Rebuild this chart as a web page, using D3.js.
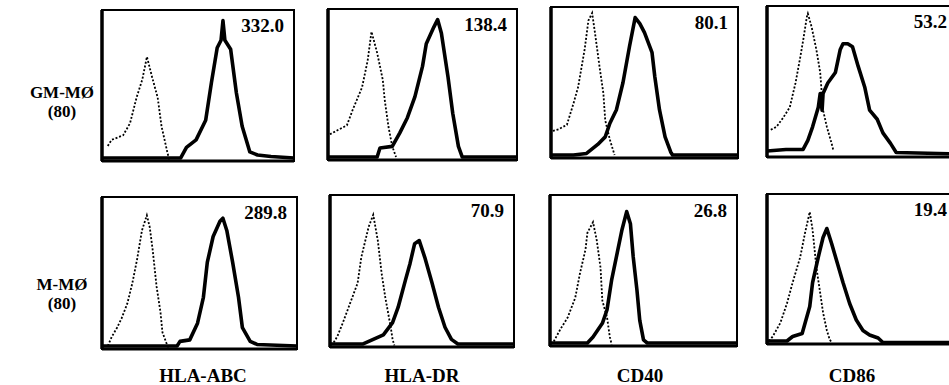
<!DOCTYPE html>
<html>
<head>
<meta charset="utf-8">
<script src="https://cdn.jsdelivr.net/npm/d3@7"></script>
<style>
  html, body { margin: 0; padding: 0; background: #fff; }
  svg { display: block; }
</style>
</head>
<body>
<svg id="chart" width="949" height="385"></svg>
<script>
// ---------------- DATA ----------------
const markers = ["HLA-ABC", "HLA-DR", "CD40", "CD86"];
const cellTypes = ["GM-MØ", "M-MØ"];
const cellCounts = ["(80)", "(80)"];
const mfiGM = ["332.0", "138.4", "80.1", "53.2"];
const mfiM  = ["289.8", "70.9", "26.8", "19.4"];

// histogram traces: [fluorescence channel (0-100 across axis), relative count (0-100)]
// GM-MØ, isotype control (dotted) and specific stain (solid)
const gmIsoABC = [[3,10],[5,14],[11,17],[14.6,25],[18,42],[21,54],[23.4,69],[26,56],[29,42],[31,23],[34,6],[35,1]];
const gmABC    = [[0,2],[30,2],[41,2],[44,9],[49,14],[54,27],[57,52],[60,75],[62,80],[63,93],[64,80],[67,74],[70,45],[73,23],[77,6],[81,4],[88,3],[100,2]];
const gmIsoDR  = [[1,17],[4,19],[10,23],[13,33],[18,48],[21,66],[23,85],[26,71],[29,53],[30,40],[32,22],[34,9],[36,2]];
const gmDR     = [[0,2],[26,2],[27.5,8],[34,9],[38,18],[42,28],[46,42],[50,62],[52,77],[56,88],[58,93],[60,84],[63.5,55],[66,31],[69,9],[71,2],[100,2]];
const gmIsoCD40 = [[1,18],[4,19],[8.5,22],[12,36],[14.5,47],[18,72],[20,91],[22,96],[23.5,83],[26,60],[28,43],[29,25],[31.5,12],[34,2]];
const gmCD40    = [[0,2],[12,2],[19,3],[25,9],[29,14],[31.5,23],[35,32],[38.5,50],[42,74],[45,93],[47.5,89],[50,83],[54,70],[55.5,54],[58,32],[61,14],[64,4],[65,2],[100,2]];
const gmIsoCD86 = [[2,18],[5,20],[8.5,26],[12,33],[15,49],[17.5,66],[19,77],[21,93],[21.5,95],[23.5,86],[26,71],[28,56],[29.5,31],[31.5,20],[34,9],[35,4]];
const gmCD86    = [[0,4],[10,5],[19,5],[21.5,11],[24,20],[27,33],[28,42],[29,31],[29.5,42],[32,49],[36,56],[38.5,71],[40,75],[42.5,75],[45,73],[48,60],[51.5,46],[54,31],[58,25],[61,16],[65,9],[68,3],[100,2]];
// M-MØ
const mIsoABC = [[3,2],[5,8],[7.7,14],[10,20],[13,30],[15.5,43],[18,59],[20.5,78],[23,88],[24.5,80],[26,65],[28,41],[30,24],[31,11],[33,4],[34,1]];
const mABC    = [[0,2],[38.5,2],[40,5],[45,6],[49,17],[52,34],[54,57],[57,74],[60.5,84],[62,86],[64,78],[67,57],[70,34],[72,14],[76,5],[79.5,3],[100,2]];
const mIsoDR  = [[2,3],[4,7],[7,16],[11,29],[15,42],[17,59],[21,79],[23.5,87],[26,70],[28,49],[30,33],[33,13],[34,5],[35,1]];
const mDR     = [[0,2],[18,2],[23.5,5],[29,8],[34,16],[37,26],[41,44],[43.5,55],[46,68],[48.5,70],[51.5,59],[55.5,42],[59,26],[62.5,13],[66,5],[69.5,2],[100,2]];
const mIsoCD40 = [[2,3],[5.5,11],[9.5,19],[13.5,32],[16,48],[19,64],[20,75],[23,82],[25,70],[27,52],[28,30],[30.5,19],[32,6],[33,1]];
const mCD40    = [[0,2],[20,2],[23,6],[28,15],[30.5,24],[33,44],[36,62],[38.5,77],[41,89],[43,81],[44.5,59],[46.5,37],[48,17],[50,4],[52,2],[100,2]];
const mIsoCD86 = [[1,2],[3,5],[7,14],[10.5,27],[13.5,41],[17.5,58],[20,74],[22.5,88],[24,76],[26,51],[28,34],[29.5,21],[31.5,9],[33,3],[34,1]];
const mCD86    = [[0,2],[10.5,2],[13.5,5],[18.5,7],[22.5,25],[24,41],[27,58],[29.5,71],[31.5,77],[34,67],[37,54],[40,41],[43.5,27],[47,16],[50.5,9],[54,6],[58.5,4],[61,1],[100,1]];

const isoTraces   = [[gmIsoABC, gmIsoDR, gmIsoCD40, gmIsoCD86], [mIsoABC, mIsoDR, mIsoCD40, mIsoCD86]];
const stainTraces = [[gmABC, gmDR, gmCD40, gmCD86], [mABC, mDR, mCD40, mCD86]];
const mfiValues = [mfiGM, mfiM];

// ---------------- LAYOUT ----------------
const FONT = "'Liberation Serif', 'Times New Roman', Tinos, 'DejaVu Serif', serif";
const panelBoxes = [
  [[102, 10, 294, 161], [328, 9, 517, 160], [551, 7, 738, 158], [767, 6, 957, 157]],
  [[102, 197, 297, 349], [330, 195, 514, 347], [550, 195, 737, 346], [767, 194, 957, 344]]
];

const svg = d3.select("#chart");

panelBoxes.forEach((row, r) => {
  row.forEach((b, c) => {
    const [x0, y0, x1, y1] = b;
    const x = d3.scaleLinear().domain([0, 100]).range([x0, x1]);
    const y = d3.scaleLinear().domain([0, 100]).range([y1, y0]);
    const g = svg.append("g");
    const line = d3.line().x(d => x(d[0])).y(d => y(d[1]));

    g.append("path").datum(isoTraces[r][c]).attr("d", line)
      .attr("fill", "none").attr("stroke", "#000").attr("stroke-width", 1.8)
      .attr("stroke-dasharray", "2,1.8");
    g.append("path").datum(stainTraces[r][c]).attr("d", line)
      .attr("fill", "none").attr("stroke", "#000").attr("stroke-width", 3.6)
      .attr("stroke-linejoin", "round");

    // frame
    g.append("rect").attr("x", x0).attr("y", y0).attr("width", x1 - x0).attr("height", y1 - y0)
      .attr("fill", "none").attr("stroke", "#000").attr("stroke-width", 2);
    g.append("line").attr("x1", x0).attr("x2", x0).attr("y1", y0).attr("y2", y1)
      .attr("stroke", "#000").attr("stroke-width", 3.5);
    g.append("line").attr("x1", x0).attr("x2", x1).attr("y1", y1).attr("y2", y1)
      .attr("stroke", "#000").attr("stroke-width", 3);

    g.append("text").attr("x", Math.min(x1, 957) - 10).attr("y", y0 + 22)
      .attr("text-anchor", "end").attr("font-family", FONT).attr("font-weight", "bold")
      .attr("font-size", 19).text(mfiValues[r][c]);
  });
});

// row labels
const rowLabelY = [[98, 117], [290, 309]];
cellTypes.forEach((t, r) => {
  svg.append("text").attr("x", 62).attr("y", rowLabelY[r][0]).attr("text-anchor", "middle")
    .attr("font-family", FONT).attr("font-weight", "bold").attr("font-size", 17).text(t);
  svg.append("text").attr("x", 62).attr("y", rowLabelY[r][1]).attr("text-anchor", "middle")
    .attr("font-family", FONT).attr("font-weight", "bold").attr("font-size", 17).text(cellCounts[r]);
});

// column labels
const colLabelX = [203, 422, 640, 852];
markers.forEach((m, c) => {
  svg.append("text").attr("x", colLabelX[c]).attr("y", 382).attr("text-anchor", "middle")
    .attr("font-family", FONT).attr("font-weight", "bold").attr("font-size", 19).text(m);
});
</script>
</body>
</html>
